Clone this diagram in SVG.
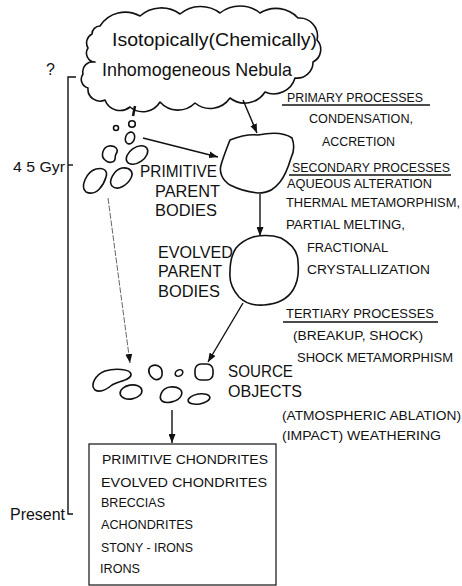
<svg xmlns="http://www.w3.org/2000/svg" width="462" height="586" viewBox="0 0 462 586">
<style>
.s{fill:none;stroke:#111;stroke-width:1.6;stroke-linejoin:round}
.c{stroke:#111;stroke-width:1.4;fill:none}
.t{font-family:"Liberation Sans",Arial,sans-serif;fill:#111}
.big{font-size:19px}
.lab{font-size:16px}
.sm{font-size:12px}
</style>
<defs>
<marker id="ah" markerWidth="9" markerHeight="7" refX="9" refY="3.5" orient="auto" markerUnits="userSpaceOnUse">
<path d="M0,0 L9,3.5 L0,7 z" fill="#111"/>
</marker>
</defs>
<rect width="462" height="586" fill="#fff"/>

<g id="nebula">
<path class="s" d="M100,26 A30,30 0 0 1 140,16 A32,32 0 0 1 180,14 A32,32 0 0 1 220,13 A32,32 0 0 1 260,13 A30,30 0 0 1 298,18 A18,18 0 0 1 317,40 A14,14 0 0 1 313,62 A16,16 0 0 1 295,78 A22,22 0 0 1 265,92 A24,24 0 0 1 230,98 A24,24 0 0 1 195,103 A24,24 0 0 1 160,102 A20,20 0 0 1 130,107 A16,16 0 0 1 105,100 A12,12 0 0 1 88,88 A9,9 0 0 1 83,74 A10,10 0 0 1 95,62 A9,9 0 0 1 88,48 A10,10 0 0 1 92,34 A8,8 0 0 1 100,26 Z"/>
<text class="t big" x="112" y="46" textLength="205" lengthAdjust="spacingAndGlyphs">Isotopically(Chemically)</text>
<text class="t big" x="102" y="76" textLength="190" lengthAdjust="spacingAndGlyphs">Inhomogeneous Nebula</text>
</g>

<g id="timeline">
<path class="c" d="M76,77 H68 V514 H73"/>
<line class="c" x1="68" y1="165" x2="73" y2="165"/>
<text class="t lab" x="46" y="75">?</text>
<text class="t" font-size="15" x="13" y="172" textLength="52" lengthAdjust="spacingAndGlyphs">4 5 Gyr</text>
<text class="t lab" x="10" y="520" textLength="55" lengthAdjust="spacingAndGlyphs">Present</text>
</g>

<g id="small-bodies">
<circle class="s" cx="132" cy="124" r="3.3"/>
<circle class="s" cx="116" cy="128" r="2.5"/>
<ellipse class="s" cx="130" cy="138" rx="4.5" ry="6" transform="rotate(20 130 138)"/>
<path class="s" d="M105,160 C100,156 103,147 109,146 C116,145 119,150 116,154 C114,157 117,161 112,162 C109,163 107,162 105,160 Z"/>
<ellipse class="s" cx="137" cy="155" rx="12" ry="7.5" transform="rotate(-35 137 155)"/>
<path class="s" d="M86,192 C80,187 86,172 96,169 C104,167 108,171 106,177 C104,184 97,197 86,192 Z"/>
<path class="s" d="M112,186 C108,181 114,170 122,168 C130,167 134,172 131,178 C128,184 118,192 112,186 Z"/>
</g>

<g id="primitive-parent-bodies">
<path class="s" d="M230,140 C240,136 248,134 258,135 C268,133 282,131 292,138 C295,146 294,152 291,158 C288,168 285,176 280,182 C275,188 270,193 258,193 C248,192 238,189 230,185 C222,180 219,172 221,165 C223,158 226,150 230,140 Z"/>
<text class="t lab" x="140" y="177" textLength="77" lengthAdjust="spacingAndGlyphs">PRIMITIVE</text>
<text class="t lab" x="155" y="197" textLength="65" lengthAdjust="spacingAndGlyphs">PARENT</text>
<text class="t lab" x="155" y="216" textLength="62" lengthAdjust="spacingAndGlyphs">BODIES</text>
</g>

<g id="evolved-parent-bodies">
<path class="s" d="M253,237 C262,235 272,235 281,238 C292,244 298,252 298,262 C299,272 298,282 293,290 C288,298 278,304 264,305 C252,306 244,302 239,297 C233,290 229,282 230,272 C230,262 232,254 236,248 C241,242 247,239 253,237 Z"/>
<text class="t lab" x="158" y="258" textLength="75" lengthAdjust="spacingAndGlyphs">EVOLVED</text>
<text class="t lab" x="158" y="277" textLength="64" lengthAdjust="spacingAndGlyphs">PARENT</text>
<text class="t lab" x="158" y="297" textLength="62" lengthAdjust="spacingAndGlyphs">BODIES</text>
</g>

<g id="source-objects">
<path class="s" d="M95,390 C90,385 95,375 105,371 C115,368 130,369 131,374 C132,380 118,381 112,385 C106,390 100,393 95,390 Z"/>
<path class="s" d="M150,367 C155,363 162,366 162,372 C163,378 158,381 154,379 C150,377 147,371 150,367 Z"/>
<ellipse class="s" cx="179" cy="373" rx="4" ry="3" transform="rotate(-30 179 373)"/>
<rect class="s" x="195" y="364" width="18" height="16" rx="6"/>
<ellipse class="s" cx="131" cy="392" rx="11" ry="7" transform="rotate(-10 131 392)"/>
<path class="s" d="M162,401 C158,397 162,388 170,387 C178,386 184,390 181,396 C178,402 166,404 162,401 Z"/>
<ellipse class="s" cx="199" cy="399" rx="11" ry="5" transform="rotate(-10 199 399)"/>
<text class="t lab" x="228" y="377" textLength="65" lengthAdjust="spacingAndGlyphs">SOURCE</text>
<text class="t lab" x="228" y="397" textLength="74" lengthAdjust="spacingAndGlyphs">OBJECTS</text>
</g>

<g id="processes" xml:space="preserve">
<text class="t sm" x="287" y="102" textLength="136" lengthAdjust="spacingAndGlyphs">PRIMARY  PROCESSES</text>
<line class="c" x1="282" y1="105" x2="430" y2="105" stroke-width="1.2"/>
<text class="t sm" x="309" y="123" textLength="104" lengthAdjust="spacingAndGlyphs">CONDENSATION,</text>
<text class="t sm" x="322" y="146" textLength="73" lengthAdjust="spacingAndGlyphs">ACCRETION</text>
<text class="t sm" x="292" y="172" textLength="158" lengthAdjust="spacingAndGlyphs">SECONDARY  PROCESSES</text>
<line class="c" x1="289" y1="175" x2="451" y2="175" stroke-width="1.2"/>
<text class="t sm" x="287" y="188" textLength="145" lengthAdjust="spacingAndGlyphs">AQUEOUS  ALTERATION</text>
<text class="t sm" x="286" y="207" textLength="174" lengthAdjust="spacingAndGlyphs">THERMAL  METAMORPHISM,</text>
<text class="t sm" x="286" y="229" textLength="119" lengthAdjust="spacingAndGlyphs">PARTIAL  MELTING,</text>
<text class="t sm" x="307" y="252" textLength="81" lengthAdjust="spacingAndGlyphs">FRACTIONAL</text>
<text class="t sm" x="307" y="274" textLength="123" lengthAdjust="spacingAndGlyphs">CRYSTALLIZATION</text>
<text class="t sm" x="286" y="318" textLength="148" lengthAdjust="spacingAndGlyphs">TERTIARY  PROCESSES</text>
<line class="c" x1="283" y1="322" x2="438" y2="322" stroke-width="1.2"/>
<text class="t sm" x="293" y="340" textLength="130" lengthAdjust="spacingAndGlyphs">(BREAKUP,  SHOCK)</text>
<text class="t sm" x="297" y="362" textLength="156" lengthAdjust="spacingAndGlyphs">SHOCK  METAMORPHISM</text>
<text class="t sm" x="282" y="420" textLength="179" lengthAdjust="spacingAndGlyphs">(ATMOSPHERIC ABLATION)</text>
<text class="t sm" x="282" y="440" textLength="159" lengthAdjust="spacingAndGlyphs">(IMPACT)  WEATHERING</text>
</g>

<g id="meteorite-classes" xml:space="preserve">
<rect x="89" y="444" width="187" height="141" fill="none" stroke="#111" stroke-width="1.2"/>
<text class="t sm" x="102" y="464" textLength="166" lengthAdjust="spacingAndGlyphs">PRIMITIVE  CHONDRITES</text>
<text class="t sm" x="101" y="487" textLength="166" lengthAdjust="spacingAndGlyphs">EVOLVED    CHONDRITES</text>
<text class="t sm" x="101" y="507" textLength="64" lengthAdjust="spacingAndGlyphs">BRECCIAS</text>
<text class="t sm" x="101" y="529" textLength="92" lengthAdjust="spacingAndGlyphs">ACHONDRITES</text>
<text class="t sm" x="101" y="552" textLength="92" lengthAdjust="spacingAndGlyphs">STONY - IRONS</text>
<text class="t sm" x="100" y="573" textLength="40" lengthAdjust="spacingAndGlyphs">IRONS</text>
</g>

<g id="connectors">
<line x1="135" y1="106" x2="133" y2="116" stroke="#111" stroke-width="2.5"/>
<line class="c" x1="243" y1="100" x2="257" y2="133" marker-end="url(#ah)"/>
<line class="c" x1="143" y1="138" x2="218" y2="157" marker-end="url(#ah)"/>
<line class="c" x1="260" y1="194" x2="260" y2="236" marker-end="url(#ah)"/>
<line class="c" x1="243" y1="303" x2="208" y2="362" marker-end="url(#ah)"/>
<line x1="108" y1="198" x2="130" y2="363" stroke="#555" stroke-width="0.9" stroke-dasharray="6 1.5" marker-end="url(#ah)"/>
<line class="c" x1="172" y1="410" x2="172" y2="443" marker-end="url(#ah)"/>
</g>
</svg>
